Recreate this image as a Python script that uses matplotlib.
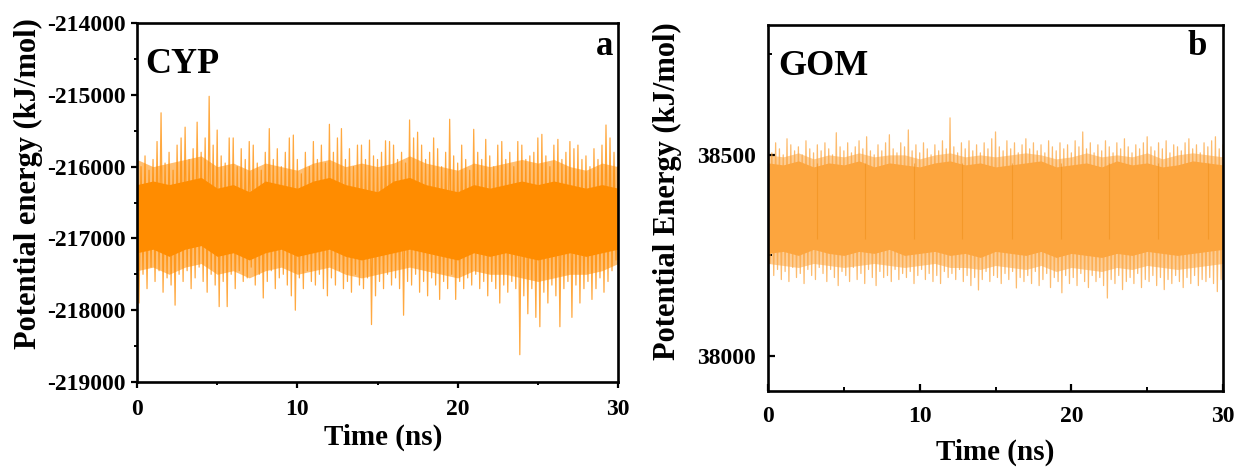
import matplotlib
matplotlib.use("Agg")
import matplotlib.pyplot as plt
import numpy as np
from matplotlib.ticker import MultipleLocator

plt.rcParams["font.family"] = ["Liberation Serif", "DejaVu Serif"]
plt.rcParams["font.weight"] = "bold"
plt.rcParams["axes.unicode_minus"] = False

# time grid of the read-off spike tips (ns)
time_ns = np.arange(0, 30.001, 0.25)
core_time_ns = np.arange(0, 30.001, 1.0)

# CYP potential energy: upper / lower spike tips every 0.25 ns (kJ/mol)
cyp_hi = [
    -215700, -216000, -215850, -216050, -215900, -215650, -215250, -215950,
    -215800, -216050, -215700, -215600, -215450, -215900, -215750, -215380,
    -215800, -215600, -215020, -215700, -215490, -215850, -215950, -215600,
    -215600, -216000, -215750, -215900, -215650, -215700, -215950, -216050,
    -215800, -215470, -215900, -215750, -216000, -215800, -215600, -215560,
    -215900, -216100, -215800, -216000, -215650, -215900, -215700, -215950,
    -215410, -215800, -215600, -215470, -215900, -215750, -216000, -215700,
    -215700, -215900, -215630, -215850, -215900, -215800, -215640, -215650,
    -215700, -215900, -215800, -215950, -215350, -215600, -215520, -215700,
    -215900, -215800, -215600, -215750, -216000, -215800, -215340, -215850,
    -215950, -215700, -215900, -216050, -215480, -215800, -215900, -215620,
    -215850, -216000, -215700, -215650, -215900, -215800, -216000, -215650,
    -215700, -215900, -215850, -215800, -215600, -215550, -215850, -216000,
    -215700, -215620, -215900, -215800, -215650, -215750, -215700, -215900,
    -215850, -216000, -215750, -215900, -215700, -215420, -215600, -215800,
    -216000,
]
cyp_lo = [
    -217900, -217500, -217700, -217400, -217600, -217450, -217750, -217550,
    -217650, -217930, -217500, -217600, -217450, -217700, -217550, -217400,
    -217600, -217750, -217500, -217650, -217950, -217600, -217950, -217500,
    -217700, -217450, -217600, -217550, -217400, -217650, -217500, -217830,
    -217600, -217450, -217700, -217550, -217500, -217650, -217800, -218000,
    -217550, -217700, -217450, -217600, -217650, -217500, -217700, -217800,
    -217550, -217650, -217450, -217700, -217600, -217750, -217500, -217650,
    -217700, -217550, -218200, -217800, -217600, -217700, -217500, -217650,
    -217550, -217700, -218070, -217600, -217650, -217500, -217750, -217600,
    -217800, -217550, -217650, -217850, -217600, -217700, -217500, -217850,
    -217600, -217700, -217550, -217650, -217500, -217700, -217600, -217800,
    -217600, -217700, -217900, -217650, -217750, -217600, -217700, -218620,
    -217800, -218050, -217700, -218100, -218230, -217750, -217900, -217650,
    -217800, -218230, -217700, -217600, -218100, -217650, -217900, -217700,
    -217600, -217850, -217700, -217550, -217750, -217600, -217450, -217300,
    -217200,
]
# dense core of the CYP trace, every 1 ns
cyp_core_hi = [
    -216250, -216200, -216250, -216200, -216150, -216300, -216250, -216350,
    -216200, -216250, -216300, -216200, -216150, -216250, -216300, -216350,
    -216200, -216150, -216250, -216300, -216350, -216250, -216300, -216250,
    -216200, -216250, -216200, -216250, -216300, -216250, -216300,
]
cyp_core_lo = [
    -217200, -217150, -217250, -217150, -217100, -217250, -217200, -217300,
    -217200, -217150, -217250, -217200, -217150, -217250, -217300, -217250,
    -217200, -217150, -217200, -217250, -217300, -217200, -217250, -217200,
    -217250, -217300, -217250, -217200, -217250, -217200, -217150,
]
# looser halo around the core, every 1 ns
cyp_halo_hi = [
    -215900, -216000, -215950, -215900, -215850, -216000, -215950, -216050,
    -215950, -216000, -216050, -215950, -215900, -216000, -215950, -216000,
    -215950, -215850, -215950, -216000, -216050, -215950, -216000, -215950,
    -215900, -215950, -215900, -216000, -216050, -215950, -216000,
]
cyp_halo_lo = [
    -217450, -217400, -217500, -217400, -217350, -217500, -217450, -217550,
    -217450, -217400, -217500, -217450, -217400, -217500, -217550, -217500,
    -217450, -217400, -217450, -217500, -217550, -217450, -217500, -217500,
    -217550, -217600, -217550, -217500, -217500, -217450, -217350,
]

# GOM potential energy: upper / lower spike tips every 0.25 ns (kJ/mol)
gom_hi = [
    38520, 38505, 38530, 38515, 38500, 38540, 38525, 38510,
    38520, 38500, 38535, 38515, 38505, 38525, 38510, 38530,
    38515, 38500, 38555, 38520, 38510, 38530, 38505, 38520,
    38535, 38515, 38545, 38510, 38500, 38525, 38510, 38530,
    38550, 38515, 38505, 38530, 38520, 38562, 38510, 38525,
    38505, 38530, 38515, 38500, 38525, 38510, 38535, 38515,
    38592, 38520, 38505, 38530, 38515, 38535, 38510, 38525,
    38505, 38530, 38515, 38540, 38557, 38520, 38510, 38535,
    38515, 38530, 38505, 38525, 38540, 38515, 38530, 38510,
    38525, 38505, 38535, 38520, 38510, 38530, 38515, 38525,
    38505, 38535, 38520, 38557, 38515, 38530, 38505, 38525,
    38510, 38535, 38520, 38505, 38530, 38515, 38540, 38520,
    38505, 38525, 38515, 38530, 38545, 38520, 38510, 38530,
    38515, 38535, 38505, 38525, 38520, 38510, 38530, 38540,
    38515, 38525, 38505, 38530, 38520, 38535, 38545, 38515,
    38525,
]
gom_lo = [
    38230, 38200, 38215, 38190, 38210, 38185, 38220, 38195,
    38205, 38180, 38215, 38200, 38190, 38220, 38205, 38185,
    38215, 38195, 38175, 38210, 38200, 38185, 38220, 38190,
    38205, 38180, 38215, 38195, 38175, 38210, 38195, 38200,
    38185, 38215, 38190, 38205, 38195, 38210, 38180, 38200,
    38215, 38190, 38205, 38185, 38200, 38180, 38210, 38195,
    38205, 38190, 38215, 38185, 38200, 38175, 38195, 38164,
    38190, 38210, 38185, 38200, 38195, 38180, 38205, 38190,
    38210, 38169, 38195, 38185, 38200, 38180, 38210, 38175,
    38190, 38205, 38170, 38195, 38185, 38157, 38200, 38180,
    38195, 38175, 38205, 38185, 38170, 38200, 38185, 38195,
    38175, 38144, 38190, 38180, 38200, 38165, 38185, 38195,
    38180, 38205, 38170, 38190, 38185, 38200, 38175, 38195,
    38165, 38190, 38180, 38200, 38185, 38170, 38195, 38180,
    38200, 38175, 38190, 38185, 38195, 38180, 38160, 38190,
    38205,
]
gom_core_hi = [
    38480, 38475, 38485, 38470, 38480, 38475, 38485, 38470, 38480, 38475,
    38470, 38480, 38485, 38475, 38480, 38470, 38475, 38480, 38485, 38470,
    38475, 38480, 38470, 38485, 38475, 38480, 38470, 38475, 38485, 38480,
    38475,
]
gom_core_lo = [
    38255, 38260, 38250, 38265, 38255, 38250, 38260, 38255, 38265, 38250,
    38255, 38260, 38250, 38255, 38245, 38260, 38255, 38250, 38260, 38245,
    38255, 38250, 38245, 38255, 38250, 38260, 38255, 38250, 38255, 38260,
    38265,
]
gom_halo_hi = [
    38500, 38495, 38505, 38490, 38500, 38495, 38505, 38495, 38500, 38500,
    38490, 38500, 38505, 38495, 38500, 38495, 38500, 38505, 38500, 38490,
    38495, 38505, 38495, 38500, 38495, 38505, 38490, 38500, 38505, 38500,
    38495,
]
gom_halo_lo = [
    38230, 38225, 38220, 38230, 38225, 38220, 38225, 38230, 38225, 38220,
    38225, 38230, 38220, 38220, 38215, 38225, 38220, 38215, 38225, 38210,
    38220, 38215, 38210, 38220, 38215, 38225, 38220, 38215, 38220, 38225,
    38230,
]
# short darker segments visible in the GOM trace (segment joins, ns)
gom_joins = [3.2, 6.4, 9.6, 12.8, 16.1, 19.3, 22.5, 25.7, 29.0]

CYP_COLOR = "#FF8C00"
GOM_COLOR = "#FCA53E"


def zigzag(hi, lo):
    t = np.empty(2 * len(time_ns))
    v = np.empty(2 * len(time_ns))
    t[0::2] = time_ns
    t[1::2] = time_ns + 0.125
    v[0::2] = hi
    v[1::2] = lo
    return t, v


def draw_trace(ax, hi, lo, halo_hi, halo_lo, core_hi, core_lo, color):
    ax.fill_between(core_time_ns, halo_lo, halo_hi, color=color, lw=0, alpha=0.55)
    ax.fill_between(core_time_ns, core_lo, core_hi, color=color, lw=0)
    t, v = zigzag(hi, lo)
    ax.plot(t, v, color=color, lw=0.9, alpha=0.75)


def style_axes(ax, direction, major_len, minor_len, xpad, ypad):
    for side in ax.spines.values():
        side.set_linewidth(1.9)
    ax.tick_params(which="major", direction=direction, length=major_len, width=1.6,
                   labelsize=17)
    ax.tick_params(axis="x", which="major", pad=xpad)
    ax.tick_params(axis="y", which="major", pad=ypad)
    ax.tick_params(which="minor", direction=direction, length=minor_len, width=1.4)
    for lab in ax.get_xticklabels() + ax.get_yticklabels():
        lab.set_fontweight("bold")


fig = plt.figure(figsize=(12.41, 4.71), dpi=100)
ax_a = fig.add_axes([0.1104, 0.189, 0.3876, 0.762])
ax_b = fig.add_axes([0.6189, 0.170, 0.3666, 0.777])

# panel a: CYP
draw_trace(ax_a, cyp_hi, cyp_lo, cyp_halo_hi, cyp_halo_lo,
           cyp_core_hi, cyp_core_lo, CYP_COLOR)
ax_a.set_xlim(0, 30)
ax_a.set_ylim(-219000, -214000)
ax_a.xaxis.set_major_locator(MultipleLocator(10))
ax_a.xaxis.set_minor_locator(MultipleLocator(5))
ax_a.yaxis.set_major_locator(MultipleLocator(1000))
ax_a.yaxis.set_minor_locator(MultipleLocator(500))
style_axes(ax_a, "out", 4, 2.2, 8, 4)
ax_a.set_xlabel("Time (ns)", fontsize=21, fontweight="bold")
ax_a.set_ylabel("Potential energy (kJ/mol)", fontsize=22, fontweight="bold")
ax_a.xaxis.set_label_coords(0.511, -0.153)
ax_a.xaxis.label.set_va("center")
ax_a.yaxis.set_label_coords(-0.225, 0.554)
ax_a.yaxis.label.set_va("center")
ax_a.text(0.017, 0.861, "CYP", transform=ax_a.transAxes, fontsize=26,
          fontweight="bold", va="baseline", ha="left")
ax_a.text(0.99, 0.911, "a", transform=ax_a.transAxes, fontsize=25,
          fontweight="bold", va="baseline", ha="right")

# panel b: GOM
draw_trace(ax_b, gom_hi, gom_lo, gom_halo_hi, gom_halo_lo,
           gom_core_hi, gom_core_lo, GOM_COLOR)
ax_b.vlines(gom_joins, 38290, 38480, color="#F0901C", lw=0.8, alpha=0.6)
ax_b.set_xlim(0, 30)
ax_b.set_ylim(37913, 38823)
ax_b.xaxis.set_major_locator(MultipleLocator(10))
ax_b.xaxis.set_minor_locator(MultipleLocator(5))
ax_b.yaxis.set_major_locator(MultipleLocator(500))
ax_b.yaxis.set_minor_locator(MultipleLocator(250))
style_axes(ax_b, "in", 5, 3, 11, 9)
ax_b.set_xlabel("Time (ns)", fontsize=21, fontweight="bold")
ax_b.set_ylabel("Potential Energy (kJ/mol)", fontsize=22, fontweight="bold")
ax_b.xaxis.set_label_coords(0.499, -0.167)
ax_b.xaxis.label.set_va("center")
ax_b.yaxis.set_label_coords(-0.222, 0.546)
ax_b.yaxis.label.set_va("center")
ax_b.text(0.022, 0.863, "GOM", transform=ax_b.transAxes, fontsize=26,
          fontweight="bold", va="baseline", ha="left")
ax_b.text(0.965, 0.918, "b", transform=ax_b.transAxes, fontsize=25,
          fontweight="bold", va="baseline", ha="right")

fig.savefig("out.png", dpi=100)
plt.close(fig)
